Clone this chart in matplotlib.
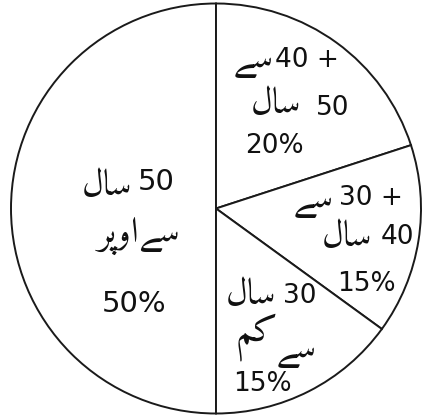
"""
pie chart of age groups (urdu labels)
"""

import matplotlib
matplotlib.use('Agg')
import matplotlib.pyplot as plt

# urdu words, written as arabic presentation forms in visual (left to right) order
# because matplotlib does no arabic shaping or bidi on its own
SAAL = '\uFEDD\uFE8E\uFEB3'          # سال
SE = '\uFBAF\uFEB3'                  # سے
UPAR = '\uFEAE\uFB58\uFEED\uFE8D'    # اوپر
KAM = '\uFEE2\uFB90'                 # کم

# data (clockwise from the bottom)
groups = ['50 سال سے اوپر', '+40 سے 50 سال', '+30 سے 40 سال', '30 سال سے کم']
shares = [50, 20, 15, 15]

# urdu pieces and number pieces of each slice label
arText = [[SAAL, UPAR + SE], [SE, SAAL], [SE, SAAL], [SAAL, KAM, SE]]
numText = [['50'], ['40 +', '50'], ['30 +', '40'], ['30']]

# where each piece goes, in pixels from the top left of the picture
arPos = [[(107, 186), (138, 236)],
         [(253, 61), (276, 104)],
         [(313, 201), (347, 237)],
         [(251, 295), (256, 337), (296, 351)]]
numPos = [[(156, 182)],
          [(307, 60), (333, 108)],
          [(371, 198), (397, 237)],
          [(300, 296)]]
pctPos = [(134, 304), (274, 146), (366, 284), (262, 384)]
numSize = [21, 19, 19, 19]

W, H = 424, 415

fig = plt.figure(figsize=(W/100, H/100), dpi=100)
ax = fig.add_axes([0, 0, 1, 1])

ax.pie(shares, startangle=-90, counterclock=False, center=(216, H-208.5), radius=205,
       colors=['white']*len(shares),
       wedgeprops={'edgecolor': '#1a1a1a', 'linewidth': 1.4})

ax.set_xlim(0, W)
ax.set_ylim(0, H)
ax.set_aspect('equal')
ax.axis('off')

arFnt = ['Amiri', 'FreeSerif', 'DejaVu Sans']
numFnt = ['DejaVu Sans']
ink = '#111111'

for k in range(len(shares)):
    for s, (x, y) in zip(arText[k], arPos[k]):
        ax.text(x, H-y, s, ha='center', va='center', fontsize=26, family=arFnt, color=ink)
    for s, (x, y) in zip(numText[k], numPos[k]):
        ax.text(x, H-y, s, ha='center', va='center', fontsize=numSize[k], family=numFnt, color=ink)
    x, y = pctPos[k]
    ax.text(x, H-y, str(shares[k]) + '%', ha='center', va='center', fontsize=numSize[k], family=numFnt, color=ink)

fig.savefig('out.png', dpi=100)
